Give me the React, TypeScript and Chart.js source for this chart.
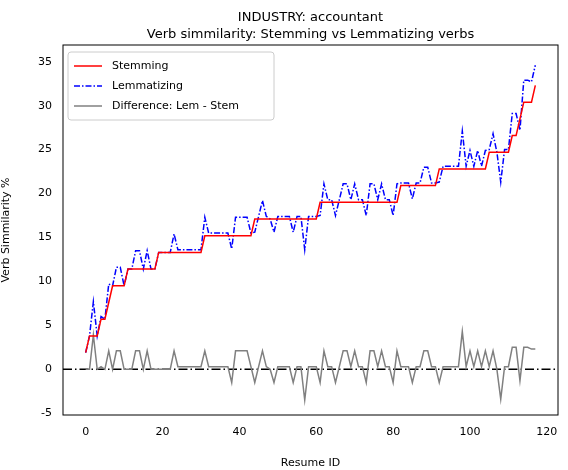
import { useEffect, useRef } from 'react';
import Chart from 'chart.js/auto';

const stem: number[] = [
  1.9, 3.8, 3.8, 3.8, 5.7, 5.7, 7.6, 9.5, 9.5, 9.5,
  9.5, 11.4, 11.4, 11.4, 11.4, 11.4, 11.4, 11.4, 11.4, 13.3,
  13.3, 13.3, 13.3, 13.3, 13.3, 13.3, 13.3, 13.3, 13.3, 13.3,
  13.3, 15.2, 15.2, 15.2, 15.2, 15.2, 15.2, 15.2, 15.2, 15.2,
  15.2, 15.2, 15.2, 15.2, 17.1, 17.1, 17.1, 17.1, 17.1, 17.1,
  17.1, 17.1, 17.1, 17.1, 17.1, 17.1, 17.1, 17.1, 17.1, 17.1,
  17.1, 19.0, 19.0, 19.0, 19.0, 19.0, 19.0, 19.0, 19.0, 19.0,
  19.0, 19.0, 19.0, 19.0, 19.0, 19.0, 19.0, 19.0, 19.0, 19.0,
  19.0, 19.0, 20.9, 20.9, 20.9, 20.9, 20.9, 20.9, 20.9, 20.9,
  20.9, 20.9, 22.8, 22.8, 22.8, 22.8, 22.8, 22.8, 22.8, 22.8,
  22.8, 22.8, 22.8, 22.8, 22.8, 24.7, 24.7, 24.7, 24.7, 24.7,
  24.7, 26.6, 26.6, 28.5, 30.4, 30.4, 30.4, 32.3,
];

const diff: number[] = [
  0, 0, 3.9, 0, 0.3, 0, 2.1, 0, 2.1, 2.1,
  0, 0, 0, 2.1, 2.1, 0, 2.1, 0, 0, 0,
  0, 0, 0, 2.1, 0.3, 0.3, 0.3, 0.3, 0.3, 0.3,
  0.3, 2.1, 0.3, 0.3, 0.3, 0.3, 0.3, 0.3, -1.5, 2.1,
  2.1, 2.1, 2.1, 0.3, -1.5, 0.3, 2.1, 0.3, 0, -1.5,
  0.3, 0.3, 0.3, 0.3, -1.5, 0.3, 0.3, -3.5, 0.3, 0.3,
  0.3, -1.5, 2.1, 0.3, 0.3, -1.5, 0.3, 2.1, 2.1, 0.3,
  2.1, 0.3, 0.3, -1.5, 2.1, 2.1, 0.3, 2.1, 0.3, 0.3,
  -1.5, 2.1, 0.3, 0.3, 0.3, -1.5, 0.3, 0.3, 2.1, 2.1,
  0.3, 0.3, -1.5, 0.3, 0.3, 0.3, 0.3, 0.3, 4.3, 0.3,
  2.1, 0.3, 2.1, 0.3, 2.1, 0.3, 2.1, 0, -3.4, 0.3,
  0.3, 2.5, 2.5, -1.3, 2.5, 2.5, 2.3, 2.3,
];

const resumeIds = stem.map((_, i) => i);
const lem = stem.map((s, i) => +(s + diff[i]).toFixed(2));
const xTicks = [0, 20, 40, 60, 80, 100, 120];
const yTicks = [-5, 0, 5, 10, 15, 20, 25, 30, 35];
const titleLines = ['INDUSTRY: accountant', 'Verb simmilarity: Stemming vs Lemmatizing verbs'];

const font = 'DejaVu Sans';

const extras = {
  id: 'extras',
  beforeDatasetsDraw(chart: any) {
    const { ctx, chartArea, scales } = chart;
    const y0 = scales.y.getPixelForValue(0);
    ctx.save();
    ctx.beginPath();
    ctx.rect(chartArea.left, chartArea.top, chartArea.right - chartArea.left, chartArea.bottom - chartArea.top);
    ctx.clip();
    ctx.strokeStyle = '#000';
    ctx.lineWidth = 1.5;
    ctx.setLineDash([9, 3, 1.5, 3]);
    ctx.beginPath();
    ctx.moveTo(chartArea.left, y0);
    ctx.lineTo(chartArea.right, y0);
    ctx.stroke();
    ctx.restore();
  },
  afterDraw(chart: any) {
    const { ctx, chartArea } = chart;
    ctx.save();
    // frame
    ctx.strokeStyle = '#000';
    ctx.lineWidth = 1;
    ctx.strokeRect(chartArea.left, chartArea.top, chartArea.right - chartArea.left, chartArea.bottom - chartArea.top);
    // title
    ctx.fillStyle = '#000';
    ctx.font = `13px "${font}"`;
    ctx.textAlign = 'center';
    ctx.textBaseline = 'alphabetic';
    const cx = (chartArea.left + chartArea.right) / 2;
    ctx.fillText(titleLines[0], cx, 21);
    ctx.fillText(titleLines[1], cx, 38);
    // legend
    const lx = chartArea.left + 5, ly = chartArea.top + 7;
    ctx.fillStyle = 'rgba(255,255,255,0.8)';
    ctx.strokeStyle = '#ccc';
    ctx.beginPath();
    ctx.roundRect(lx, ly, 206, 68, 3);
    ctx.fill();
    ctx.stroke();
    const items = [
      { label: 'Stemming', color: 'red', dash: [] as number[] },
      { label: 'Lemmatizing', color: 'blue', dash: [6, 2, 1.5, 2] },
      { label: 'Difference: Lem - Stem', color: 'gray', dash: [] as number[] },
    ];
    ctx.font = `11px "${font}"`;
    ctx.textAlign = 'left';
    ctx.textBaseline = 'middle';
    items.forEach((it, i) => {
      const yy = ly + 14 + i * 20;
      ctx.strokeStyle = it.color;
      ctx.lineWidth = 1.5;
      ctx.setLineDash(it.dash);
      ctx.beginPath();
      ctx.moveTo(lx + 6, yy);
      ctx.lineTo(lx + 34, yy);
      ctx.stroke();
      ctx.setLineDash([]);
      ctx.fillStyle = '#000';
      ctx.fillText(it.label, lx + 44, yy);
    });
    ctx.restore();
  },
};

export default function App() {
  const chartRef = useRef<HTMLCanvasElement>(null);
  const chartInstance = useRef<Chart | null>(null);

  useEffect(() => {
    document.body.style.margin = '0';
    if (!chartRef.current) return;
    if (chartInstance.current) chartInstance.current.destroy();

    chartInstance.current = new Chart(chartRef.current, {
      type: 'line',
      data: {
        datasets: [
          {
            label: 'Stemming',
            data: resumeIds.map((x, i) => ({ x, y: stem[i] })),
            borderColor: 'red',
            borderWidth: 1.5,
            pointRadius: 0,
          },
          {
            label: 'Lemmatizing',
            data: resumeIds.map((x, i) => ({ x, y: lem[i] })),
            borderColor: 'blue',
            borderWidth: 1.5,
            borderDash: [6, 2, 1.5, 2],
            pointRadius: 0,
          },
          {
            label: 'Difference: Lem - Stem',
            data: resumeIds.map((x, i) => ({ x, y: diff[i] })),
            borderColor: 'gray',
            borderWidth: 1.5,
            pointRadius: 0,
          },
        ],
      },
      options: {
        animation: false,
        responsive: false,
        layout: { padding: { top: 45, right: 10, left: 0, bottom: 0 } },
        plugins: { legend: { display: false }, title: { display: false }, tooltip: { enabled: false } },
        scales: {
          x: {
            type: 'linear',
            min: -5.9,
            max: 122.9,
            grid: { display: false },
            border: { display: false },
            afterBuildTicks: (s: any) => { s.ticks = xTicks.map(v => ({ value: v })); },
            afterFit: (s: any) => { s.height = 55; },
            ticks: { color: '#000', font: { family: font, size: 11 }, maxRotation: 0 },
            title: { display: true, text: 'Resume ID', color: '#000', font: { family: font, size: 11 }, padding: 0 },
          },
          y: {
            min: -5.2,
            max: 36.9,
            grid: { display: false },
            border: { display: false },
            afterBuildTicks: (s: any) => { s.ticks = yTicks.map(v => ({ value: v })); },
            afterFit: (s: any) => { s.width = 63; },
            ticks: { color: '#000', font: { family: font, size: 11 } },
            title: { display: true, text: 'Verb Simmilarity %', color: '#000', font: { family: font, size: 11 }, padding: 0 },
          },
        },
      },
      plugins: [extras],
    });

    return () => {
      if (chartInstance.current) {
        chartInstance.current.destroy();
        chartInstance.current = null;
      }
    };
  }, []);

  return (
    <div style={{ width: 568, height: 470, background: '#fff' }}>
      <canvas ref={chartRef} width={568} height={470} />
    </div>
  );
}
